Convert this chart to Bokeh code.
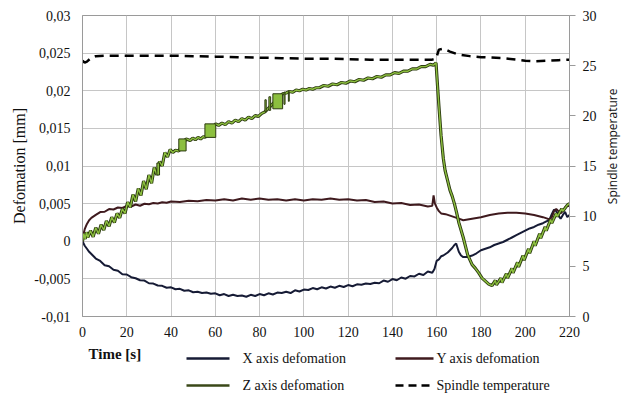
from bokeh.plotting import figure
from bokeh.models import Range1d, LinearAxis, FixedTicker, Title
from bokeh.layouts import column, row
from bokeh.embed import file_html
from bokeh.resources import INLINE
from bokeh.core.properties import value
import math

# ---------------- data ----------------
x_ticks = [0, 20, 40, 60, 80, 100, 120, 140, 160, 180, 200, 220]
def_ticks = [-0.01, -0.005, 0, 0.005, 0.01, 0.015, 0.02, 0.025, 0.03]
def_labels = ["-0,01", "-0,005", "0", "0,005", "0,01", "0,015", "0,02", "0,025", "0,03"]
temp_ticks = [0, 5, 10, 15, 20, 25, 30]

# X axis deformation
x_t = [0, 1, 2, 3, 4, 5, 6, 8, 10, 12, 14, 16, 18, 20, 22, 24, 26, 28, 30, 32, 34, 36, 38,
       40, 42, 44, 46, 48, 50, 52, 54, 56, 58, 60, 62, 64, 66, 68, 70, 72, 74, 76, 78,
       80, 82, 84, 86, 88, 90, 92, 94, 96, 98, 100, 102, 104, 106, 108, 110, 112, 114,
       116, 118, 120, 122, 124, 126, 128, 130, 132, 134, 136, 138, 140, 142, 144, 146,
       148, 150, 152, 154, 156, 158, 159, 160, 161, 162, 163, 164, 165, 166, 167, 168,
       168.8, 170, 171, 172, 174, 176, 178, 180, 182, 184, 186, 188, 190, 192, 194, 196,
       198, 200, 202, 204, 206, 208, 210, 211, 212, 213, 214, 215, 216, 217, 218, 219, 220]
x_def = [0.0, -0.0006, -0.0010, -0.0014, -0.0017, -0.0020, -0.0023, -0.00262, -0.00318,
         -0.00332, -0.00378, -0.00392, -0.00438, -0.00442, -0.00478, -0.00492, -0.00518,
         -0.00522, -0.00558, -0.00562, -0.00588, -0.00592, -0.00618, -0.00612, -0.00638,
         -0.00632, -0.00658, -0.00652, -0.00678, -0.00672, -0.00688, -0.00682, -0.00698,
         -0.00692, -0.00718, -0.00702, -0.00728, -0.00712, -0.00728, -0.00722, -0.00738,
         -0.00712, -0.00728, -0.00702, -0.00718, -0.00692, -0.00708, -0.00682, -0.00688,
         -0.00672, -0.00688, -0.00652, -0.00668, -0.00642, -0.00648, -0.00622, -0.00638,
         -0.00612, -0.00628, -0.00602, -0.00618, -0.00592, -0.00608, -0.00582, -0.00598,
         -0.00572, -0.00578, -0.00562, -0.00568, -0.00552, -0.00558, -0.00522, -0.00538,
         -0.00502, -0.00518, -0.00482, -0.00498, -0.00462, -0.00468, -0.00432, -0.00448,
         -0.00402, -0.00418, -0.0037, -0.0026, -0.0024, -0.0020, -0.0019, -0.0017, -0.0015,
         -0.0012, -0.0009, -0.0005, -0.0003, -0.0014, -0.0019, -0.0021, -0.0021, -0.0019,
         -0.0016, -0.0012, -0.0010, -0.0008, -0.0005, -0.0003, -0.0001, 0.0002, 0.0005,
         0.0008, 0.0011, 0.0014, 0.0017, 0.0019, 0.0022, 0.0024, 0.0027, 0.0029, 0.0036,
         0.0042, 0.0040, 0.0034, 0.0030, 0.0035, 0.0039, 0.0032, 0.0035]

# Y axis deformation
y_t = [0, 0.5, 1, 2, 3, 4, 5, 6, 8, 10, 12, 14, 16, 18, 20, 22, 24, 26, 28, 30, 32, 34, 36,
       38, 40, 44, 48, 52, 56, 60, 64, 68, 72, 76, 80, 84, 88, 92, 96, 100, 104, 108, 112,
       116, 120, 124, 128, 132, 136, 140, 144, 148, 152, 156, 158, 158.6, 159.2, 160, 161,
       162, 164, 166, 168, 170, 172, 174, 176, 178, 180, 184, 188, 192, 196, 200, 204, 208,
       211, 212, 213, 214, 215, 216, 217, 218, 219, 220]
y_def = [0.0, 0.0010, 0.0016, 0.0023, 0.0028, 0.0031, 0.0033, 0.0035, 0.00388, 0.00392,
         0.00428, 0.00422, 0.00448, 0.00442, 0.00468, 0.00462, 0.00488, 0.00472, 0.00498,
         0.00492, 0.00508, 0.00502, 0.00518, 0.00512, 0.00528, 0.00522, 0.00538, 0.00532,
         0.00548, 0.00542, 0.00558, 0.00542, 0.00568, 0.00552, 0.00568, 0.00552, 0.00558,
         0.00542, 0.00558, 0.00542, 0.00558, 0.00552, 0.00568, 0.00552, 0.00558, 0.00542,
         0.00548, 0.00522, 0.00528, 0.00502, 0.00508, 0.00482, 0.00488, 0.00462, 0.0047,
         0.0061, 0.0050, 0.0045, 0.0040, 0.0037, 0.0036, 0.0034, 0.0032, 0.0030, 0.0028,
         0.0029, 0.0030, 0.0031, 0.0032, 0.0035, 0.0037, 0.0038, 0.0038, 0.0037, 0.0035,
         0.0032, 0.0029, 0.0032, 0.0040, 0.0043, 0.0040, 0.0037, 0.0040, 0.0045, 0.0047,
         0.0047]

# Z axis deformation
z_t = [0, 0.6, 1.2, 1.8, 2.4, 3.6, 4.8, 6, 7.2, 8.4, 9.6, 10.8, 12, 13.2, 14.4, 15.6, 16.8,
       18, 19.2, 20.4, 21.6, 22.8, 24, 25.2, 26.4, 27.6, 28.8, 30, 31.2, 32.4, 33.6, 34.8,
       36, 37.2, 38.4, 39.6, 40.8, 42, 43.5, 46.8, 48.6, 49.8, 51, 52.2, 53.4, 54.6, 55.3,
       60.2, 61.5, 63, 64.5, 66, 67.5, 69, 70.5, 72, 73.5, 75, 76.5, 78, 79.5, 81, 82.4,
       90.4, 92, 93.5, 95, 96.5, 98, 99.5, 101, 102.5, 104, 105.5, 107, 109, 111, 113, 115,
       117, 119, 121, 123, 125, 127, 129, 131, 133, 135, 137, 139, 141, 143, 145, 147, 149,
       151, 153, 155, 157, 158.5, 159.7, 160.3, 161, 162, 163, 163.8, 165, 166, 167, 168,
       169, 170, 172, 174, 176, 177.5, 179, 180.5, 182, 183.5, 185, 186.5, 187, 189, 189.5,
       191.5, 192, 194, 194.5, 196.5, 197, 199, 199.5, 201.5, 202, 204, 204.5, 206.5, 207,
       209, 209.5, 211.5, 212, 214, 214.5, 216.5, 217, 219, 220]
z_def = [0.0, 0.0010, 0.0003, 0.0012, 0.0005, 0.0014, 0.0006, 0.0018, 0.0010, 0.0022,
         0.0015, 0.0027, 0.0020, 0.0032, 0.0025, 0.0037, 0.0031, 0.0043, 0.0037, 0.0052,
         0.0045, 0.0062, 0.0053, 0.0070, 0.0061, 0.0080, 0.0069, 0.0088, 0.0077, 0.0098,
         0.0088, 0.0106, 0.0100, 0.0118, 0.0112, 0.0122, 0.0118, 0.0121, 0.0120, 0.0136,
         0.0134, 0.0137, 0.0135, 0.0138, 0.0136, 0.0139, 0.0138, 0.0156, 0.0154, 0.0157,
         0.0155, 0.0159, 0.0157, 0.0161, 0.0159, 0.0163, 0.0161, 0.0165, 0.0163, 0.0167,
         0.0166, 0.0170, 0.0172, 0.0196, 0.0197, 0.0199, 0.0198, 0.0201, 0.0200, 0.0202,
         0.0201, 0.0203, 0.0202, 0.0204, 0.0204, 0.0207, 0.0206, 0.0209, 0.0208, 0.0211,
         0.0210, 0.0213, 0.0212, 0.0215, 0.0214, 0.0217, 0.0216, 0.0219, 0.0218, 0.0221,
         0.0221, 0.0224, 0.0223, 0.0226, 0.0226, 0.0229, 0.0229, 0.0232, 0.0232, 0.0235,
         0.0234, 0.0237, 0.0210, 0.0180, 0.0140, 0.0110, 0.0094, 0.0080, 0.0068, 0.0060,
         0.0050, 0.0038, 0.0025, 0.0005, -0.0018, -0.0031, -0.0036, -0.0042, -0.0049,
         -0.0053, -0.0057, -0.0059, -0.0052, -0.0058, -0.0049, -0.0055, -0.0043, -0.0049,
         -0.0036, -0.0042, -0.0028, -0.0034, -0.0019, -0.0025, -0.0010, -0.0016, 0.0000,
         -0.0006, 0.0010, 0.0004, 0.0019, 0.0014, 0.0029, 0.0024, 0.0037, 0.0033, 0.0043,
         0.0040, 0.0048, 0.0050]

# Z rapid-oscillation blocks
blk_t0 = [33.6, 43.5, 55.3, 82.4, 84.2, 86.0, 91.0, 93.0]
blk_t1 = [34.8, 46.8, 60.2, 83.0, 85.0, 90.4, 91.5, 93.4]
blk_lo = [0.0088, 0.0120, 0.0138, 0.0172, 0.0174, 0.0176, 0.0182, 0.0186]
blk_hi = [0.0104, 0.0136, 0.0156, 0.0188, 0.0192, 0.0196, 0.0198, 0.0199]

# Spindle temperature
temp_t = [0, 1, 2, 4, 6, 10, 20, 30, 40, 50, 60, 70, 80, 90, 100, 110, 120, 130, 140, 150,
          158, 159.7, 161, 163, 166, 170, 175, 180, 190, 200, 205, 210, 215, 220]
temp_v = [25.5, 25.3, 25.4, 25.8, 25.95, 26.0, 26.0, 26.0, 26.0, 25.95, 25.9, 25.85, 25.8,
          25.75, 25.7, 25.7, 25.65, 25.6, 25.6, 25.6, 25.6, 25.7, 26.6, 26.7, 26.4, 26.1,
          25.95, 25.85, 25.75, 25.5, 25.45, 25.5, 25.55, 25.6]

legend_names = ["X axis defomation", "Y axis defomation", "Z axis defomation",
                "Spindle temperature"]

# ---------------- styles ----------------
C_X = "#161b35"
C_Y = "#3f1a1e"
C_Z = "#8cbf3f"
C_ZD = "#2c3a10"
SERIF = "Liberation Serif"
GRID = "#c6c6c6"
AX = "#9a9a9a"
TXT = "#111111"

p = figure(width=601, height=345, output_backend="svg", toolbar_location=None,
           x_range=Range1d(0, 220), y_range=Range1d(-0.01, 0.03),
           min_border_left=82, min_border_right=32, min_border_top=15,
           min_border_bottom=29, background_fill_color="white",
           border_fill_color="white")
p.extra_y_ranges = {"temp": Range1d(0, 30)}
p.outline_line_color = AX
p.outline_line_width = 1

p.xgrid.ticker = FixedTicker(ticks=x_ticks)
p.ygrid.ticker = FixedTicker(ticks=def_ticks)
p.grid.grid_line_color = GRID
p.grid.grid_line_width = 1

xa = p.xaxis[0]
xa.ticker = FixedTicker(ticks=x_ticks)
xa.axis_line_color = AX
xa.major_tick_line_color = None
xa.major_tick_out = 0
xa.major_tick_in = 0
xa.minor_tick_line_color = None
xa.major_label_standoff = 10
xa.major_label_text_font = SERIF
xa.major_label_text_font_size = "14px"
xa.major_label_text_color = TXT

ya = p.yaxis[0]
ya.ticker = FixedTicker(ticks=def_ticks)
ya.major_label_overrides = {t: s for t, s in zip(def_ticks, def_labels)}
ya.axis_line_color = AX
ya.major_tick_line_color = None
ya.major_tick_out = 0
ya.major_tick_in = 0
ya.minor_tick_line_color = None
ya.major_label_standoff = 12
ya.major_label_text_font = SERIF
ya.major_label_text_font_size = "14px"
ya.major_label_text_color = TXT

ra = LinearAxis(y_range_name="temp", ticker=FixedTicker(ticks=temp_ticks))
ra.axis_line_color = AX
ra.major_tick_line_color = AX
ra.major_tick_out = 6
ra.major_tick_in = 0
ra.minor_tick_line_color = None
ra.major_label_standoff = 7
ra.major_label_text_font = SERIF
ra.major_label_text_font_size = "14px"
ra.major_label_text_color = TXT
p.add_layout(ra, "right")

# left axis title as a side title, shifted a little upwards like the reference
p.add_layout(Title(text="Defomation [mm]", align="center", offset=18, standoff=8,
                   text_font=SERIF, text_font_size="16px", text_font_style="normal",
                   text_color=TXT), "left")

p.line(x_t, x_def, line_color=C_X, line_width=2)
p.line(y_t, y_def, line_color=C_Y, line_width=2)
p.line(z_t, z_def, line_color=C_ZD, line_width=3.2)
p.line(z_t, z_def, line_color=C_Z, line_width=1.4)
p.quad(left=blk_t0, right=blk_t1, bottom=blk_lo, top=blk_hi,
       fill_color=C_Z, line_color=C_ZD, line_width=1)
p.line(temp_t, temp_v, y_range_name="temp", line_color="black", line_width=2.5,
       line_dash="9 6")

# ---------------- right title strip (pixel coordinates, y from bottom) ----------------
rs = figure(width=20, height=345, output_backend="svg", toolbar_location=None,
            x_range=Range1d(0, 20), y_range=Range1d(0, 345),
            x_axis_type=None, y_axis_type=None, min_border=0,
            outline_line_color=None, background_fill_color="white",
            border_fill_color="white")
rs.text(x=[11], y=[195], text=["Spindle temperature"], angle=math.pi / 2,
        text_font=value("Open Sans"), text_font_size="12px", text_align="center",
        text_baseline="middle", text_color=TXT)

# ---------------- legend strip ----------------
lg = figure(width=621, height=61, output_backend="svg", toolbar_location=None,
            x_range=Range1d(0, 621), y_range=Range1d(61, 0),
            x_axis_type=None, y_axis_type=None, min_border=0,
            outline_line_color=None, background_fill_color="white",
            border_fill_color="white")

row1, row2 = 13, 40
lg.text(x=[88], y=[8], text=["Time [s]"], text_font=value(SERIF),
        text_font_size="15px", text_font_style="bold", text_baseline="middle",
        text_color=TXT)
lg.segment(x0=[186, 395, 186], y0=[row1, row1, row2], x1=[229, 433, 229],
           y1=[row1, row1, row2], line_color=[C_X, C_Y, "#3a4818"], line_width=2.5)
lg.line([395, 433], [row2, row2], line_color="black", line_width=2.5, line_dash="8 5")
lg.text(x=[242, 436, 242, 436], y=[row1, row1, row2, row2], text=legend_names,
        text_font=value(SERIF), text_font_size="14px", text_baseline="middle",
        text_color=TXT)

layout = column(row(p, rs, spacing=0), lg, spacing=0)
open("out.html", "w").write(file_html(layout, INLINE))
